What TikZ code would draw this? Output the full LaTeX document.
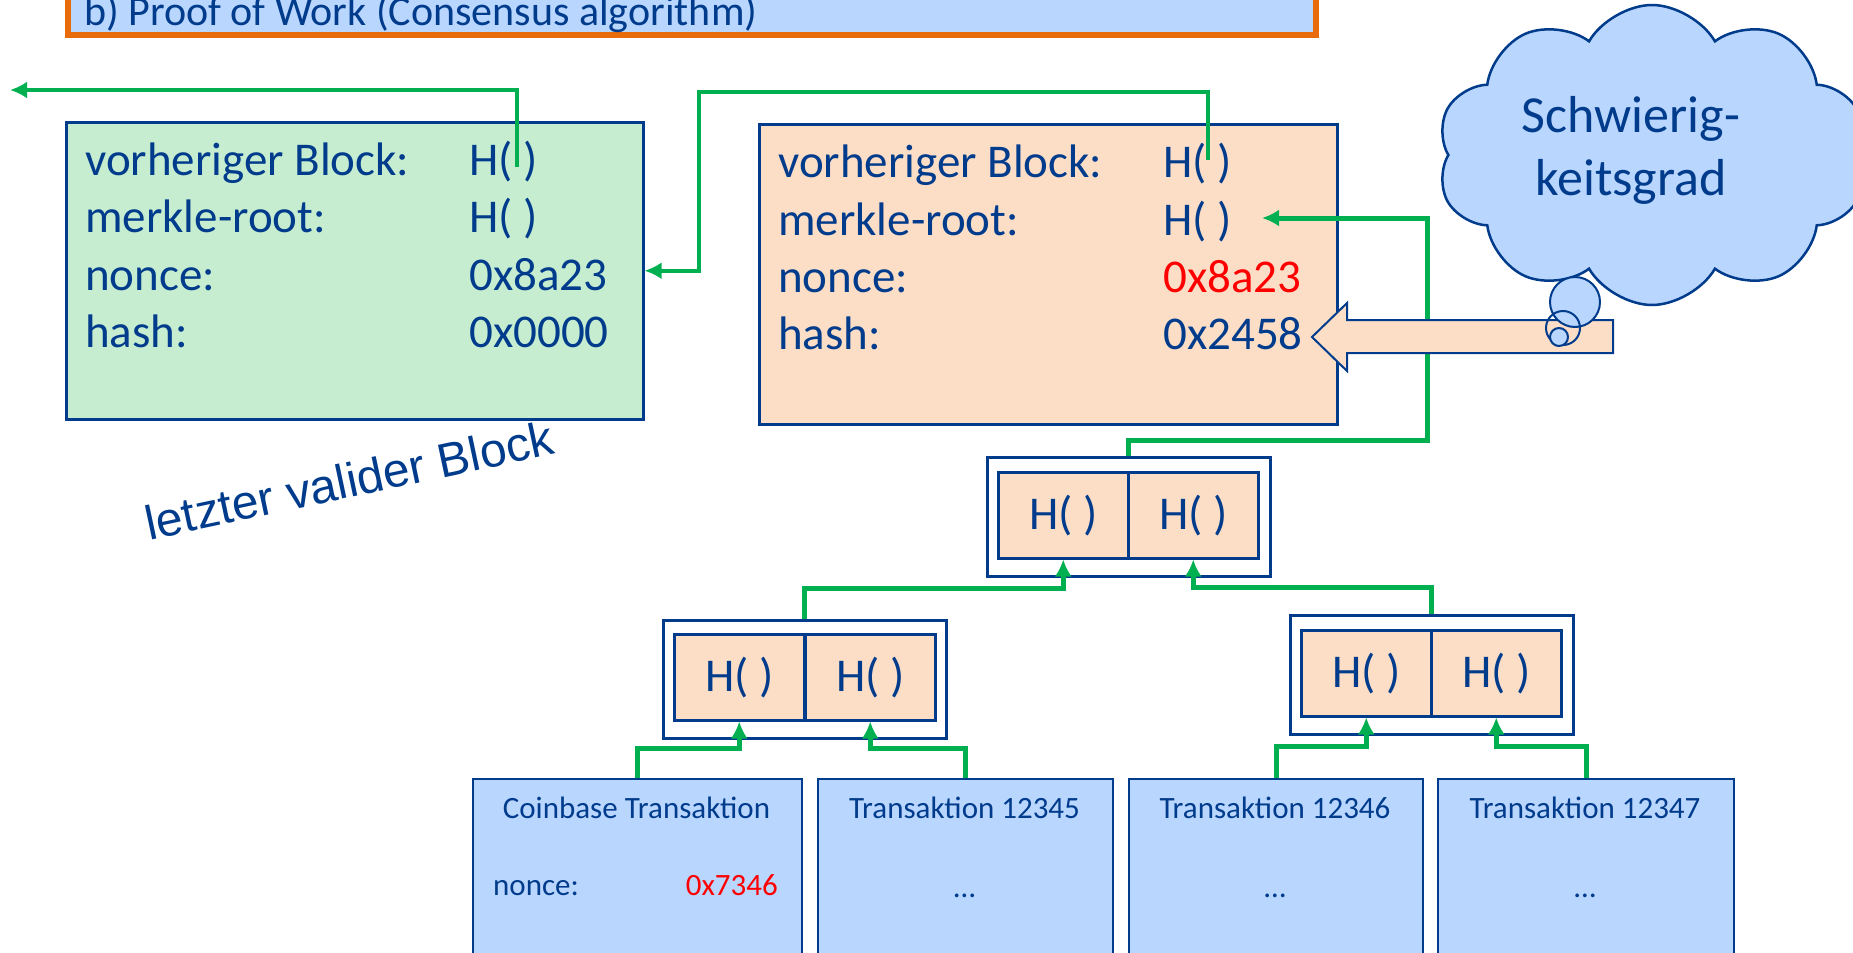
\documentclass[tikz,border=0pt]{standalone}
\usepackage{fontspec}
\setmainfont{Carlito}
\newfontfamily\arialfont{Liberation Sans}
\usetikzlibrary{arrows.meta,shapes.symbols,calc}
\definecolor{dblue}{RGB}{0,59,140}
\definecolor{gline}{RGB}{0,176,80}
\definecolor{peach}{RGB}{252,222,199}
\definecolor{mint}{RGB}{199,237,208}
\definecolor{lblue}{RGB}{185,214,254}
\definecolor{orng}{RGB}{233,108,12}
\definecolor{nred}{RGB}{255,0,0}
\tikzset{
  big/.style={font=\fontsize{47}{56}\selectfont, text=dblue, inner sep=0pt},
  small/.style={font=\fontsize{31}{37}\selectfont, text=dblue, inner sep=0pt},
  blockbox/.style={draw=dblue, line width=2.5pt, anchor=north west, inner sep=0pt},
  obox/.style={draw=dblue, fill=white, line width=2.5pt, anchor=north west, inner sep=0pt},
  hbox/.style={draw=dblue, fill=peach, line width=2.5pt, anchor=north west, inner sep=0pt,
               minimum width=130pt, minimum height=86pt, font=\fontsize{47}{56}\selectfont, text=dblue},
  txbox/.style={draw=dblue, fill=lblue, line width=2pt, anchor=north west, inner sep=0pt, minimum height=220pt},
  garrow/.style={draw=gline, line width=5pt, -{Latex[length=17pt,width=17pt]}},
  bubble/.style={circle, draw=dblue, line width=2pt, inner sep=0pt},
}
\begin{document}
\begin{tikzpicture}[x=1pt,y=-1pt]
\useasboundingbox (0,0) rectangle (1853,953);
\clip (0,0) rectangle (1853,953);

% title bar
\node[draw=orng, line width=6pt, fill=lblue, anchor=south west, minimum width=1248pt, minimum height=100pt, inner sep=0pt] (title) at (65,38) {};
\node[font=\fontsize{42}{50}\selectfont, text=dblue, inner sep=0pt, anchor=base west] (titletext) at (84,25) {b) Proof of Work (Consensus algorithm)};

% blocks
\node[blockbox, fill=mint, minimum width=577pt, minimum height=297pt] (prev) at (65,121) {};
\node[blockbox, fill=peach, minimum width=578pt, minimum height=300pt] (cur) at (758,123) {};

\node[big, anchor=base west] (pl1) at (85,175) {vorheriger Block:};
\node[big, anchor=base west] (pl2) at (85,232) {merkle-root:};
\node[big, anchor=base west] (pl3) at (85,290) {nonce:};
\node[big, anchor=base west] (pl4) at (85,347) {hash:};
\node[big, anchor=base west] (pv1) at (469,175) {H( )};
\node[big, anchor=base west] (pv2) at (469,232) {H( )};
\node[big, anchor=base west] (pv3) at (469,290) {0x8a23};
\node[big, anchor=base west] (pv4) at (469,347) {0x0000};

\node[big, anchor=base west] (cl1) at (778,177) {vorheriger Block:};
\node[big, anchor=base west] (cl2) at (778,235) {merkle-root:};
\node[big, anchor=base west] (cl3) at (778,292) {nonce:};
\node[big, anchor=base west] (cl4) at (778,349) {hash:};
\node[big, anchor=base west] (cv1) at (1163,177) {H( )};
\node[big, anchor=base west] (cv2) at (1163,235) {H( )};
\node[big, anchor=base west, text=nred] (cv3) at (1163,292) {0x8a23};
\node[big, anchor=base west] (cv4) at (1163,349) {0x2458};

\node[font=\arialfont\fontsize{48}{58}\selectfont, text=dblue, inner sep=0pt, rotate=12, anchor=base] (lvb) at (353,497) {letzter valider Block};

% merkle tree
\node[obox, minimum width=283pt, minimum height=119pt] (m0) at (986,456) {};
\node[hbox] (m0l) at (997,471) {H( )};
\node[hbox] (m0r) at (1127,471) {H( )};
\node[obox, minimum width=283pt, minimum height=118pt] (m1) at (662,619) {};
\node[hbox] (m1l) at (673,633) {H( )};
\node[hbox] (m1r) at (804,633) {H( )};
\node[obox, minimum width=283pt, minimum height=119pt] (m2) at (1289,614) {};
\node[hbox] (m2l) at (1300,629) {H( )};
\node[hbox] (m2r) at (1430,629) {H( )};

% transactions
\node[txbox, minimum width=329pt] (t1) at (472,778) {};
\node[txbox, minimum width=295pt] (t2) at (817,778) {};
\node[txbox, minimum width=294pt] (t3) at (1128,778) {};
\node[txbox, minimum width=296pt] (t4) at (1437,778) {};
\node[small, anchor=base] (t1title) at (636.5,818) {Coinbase Transaktion};
\node[small, anchor=base west] (t1nl) at (493,895) {nonce:};
\node[small, anchor=base east, text=nred] (t1nv) at (778,895) {0x7346};
\node[small, anchor=base] (t2title) at (964.5,818) {Transaktion 12345};
\node[small, anchor=base] (t2dots) at (964.5,897) {…};
\node[small, anchor=base] (t3title) at (1275,818) {Transaktion 12346};
\node[small, anchor=base] (t3dots) at (1275,897) {…};
\node[small, anchor=base] (t4title) at (1585,818) {Transaktion 12347};
\node[small, anchor=base] (t4dots) at (1585,897) {…};

% connectors
\coordinate (prevlink) at (517,167);
\coordinate (curlink) at (1208,160);
\coordinate (chainend) at (10,90);
\coordinate (mrin) at (1262,218);
\draw[garrow, line width=4.5pt] (prevlink) |- (chainend);
\draw[garrow, line width=4.5pt] (curlink) |- (699,92) |- (prev.east);
\draw[garrow] (m0.north) |- (1427,440) |- (mrin);
\draw[garrow] (m1.north) -- ++(0,-31) -| (m0l.south);
\draw[garrow] (m2.north) -- ++(0,-27) -| (m0r.south);
\draw[garrow] (t1.north) -- ++(0,-30) -| (m1l.south);
\draw[garrow] (t2.north) -- ++(0,-30) -| (m1r.south);
\draw[garrow] (t3.north) -- ++(0,-32) -| (m2l.south);
\draw[garrow] (t4.north) -- ++(0,-32) -| (m2r.south);

% block arrow
\draw[fill=peach, draw=dblue, line width=2pt] (1312,337) -- (1347,303) -- (1347,320) -- (1613,320) -- (1613,353) -- (1347,353) -- (1347,371) -- cycle;

% cloud
\node[cloud, cloud puffs=10, cloud puff arc=120, aspect=1.45, draw=dblue, fill=lblue, line width=2.5pt, minimum width=430pt, minimum height=300pt, inner sep=0pt] (cloud) at (1652,155) {};
\node[font=\fontsize{52}{63}\selectfont, text=dblue, inner sep=0pt, anchor=base] (cloudt1) at (1631,132) {Schwierig-};
\node[font=\fontsize{52}{63}\selectfont, text=dblue, inner sep=0pt, anchor=base] (cloudt2) at (1631,195) {keitsgrad};
\node[bubble, fill=lblue, minimum size=50pt] (bub1) at (1575,302) {};
\node[bubble, minimum size=34pt] (bub2) at (1563,328) {};
\node[bubble, fill=lblue, minimum size=18pt] (bub3) at (1559,337) {};
\end{tikzpicture}
\end{document}
